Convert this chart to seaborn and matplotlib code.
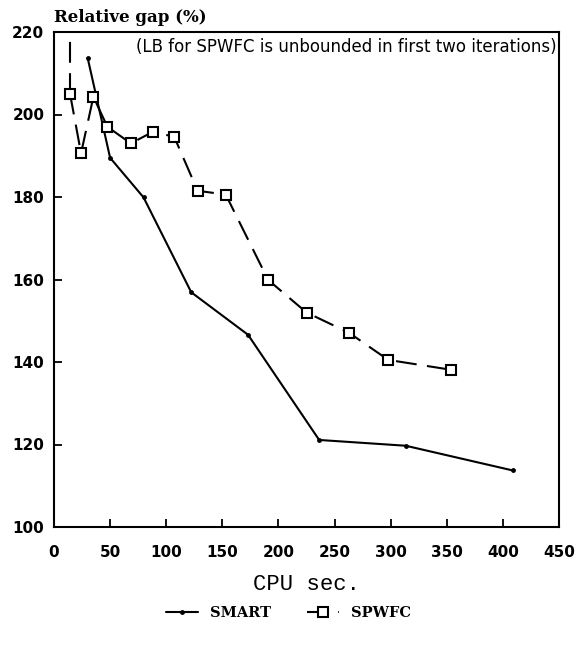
import matplotlib
matplotlib.use("Agg")
import matplotlib.pyplot as plt
import seaborn as sns
import pandas as pd

smart_cpu = [30.0, 50.0, 79.8, 122.3, 172.9, 236.3, 313.4, 408.9]
smart_gap = [213.7, 189.5, 179.9, 156.9, 146.6, 121.1, 119.7, 113.7]

spwfc_cpu = [14.3, 24.1, 35.1, 47.6, 68.5, 88.1, 107.1, 128.0, 153.0, 190.8, 225.0, 262.8, 297.9, 354.2]
spwfc_gap = [205.0, 190.6, 204.3, 197.0, 193.0, 195.8, 194.6, 181.5, 180.6, 159.9, 152.0, 147.1, 140.5, 138.1]

unbounded_cpu = [14.3, 14.3]
unbounded_gap = [205.0, 220.0]

x_ticks = [0, 50, 100, 150, 200, 250, 300, 350, 400, 450]
y_ticks = [100, 120, 140, 160, 180, 200, 220]

sns.set_style("ticks")
plt.rcParams["text.color"] = "black"
plt.rcParams["axes.labelcolor"] = "black"
plt.rcParams["xtick.color"] = "black"
plt.rcParams["ytick.color"] = "black"

fig = plt.figure(figsize=(5.77, 6.55), dpi=100)
ax = fig.add_axes([54 / 577, 1 - 527 / 655, 505 / 577, 495 / 655])

smart_df = pd.DataFrame({"cpu": smart_cpu, "gap": smart_gap})
spwfc_df = pd.DataFrame({"cpu": spwfc_cpu, "gap": spwfc_gap})

ax.plot(unbounded_cpu, unbounded_gap, color="black", linewidth=1.5,
        dashes=(10, 5), zorder=2)

sns.lineplot(data=smart_df, x="cpu", y="gap", sort=False, color="black",
             linewidth=1.5, marker="o", markersize=3.5, markeredgewidth=0,
             markerfacecolor="black", ax=ax)
smart_line = ax.lines[-1]

sns.lineplot(data=spwfc_df, x="cpu", y="gap", sort=False, color="black",
             linewidth=1.5, marker="s", markersize=6.5, markerfacecolor="white",
             markeredgecolor="black", markeredgewidth=1.5, ax=ax)
spwfc_line = ax.lines[-1]
spwfc_line.set_dashes((10, 5))

ax.set_xlim(0, 450)
ax.set_ylim(100, 220)
ax.set_xticks(x_ticks)
ax.set_yticks(y_ticks)
ax.set_xticklabels([str(v) for v in x_ticks], fontweight="bold", fontsize=11,
                   family="DejaVu Sans", color="black")
ax.set_yticklabels([str(v) for v in y_ticks], fontweight="bold", fontsize=11,
                   family="DejaVu Sans", color="black")
ax.tick_params(direction="in", length=6, width=1.3, colors="black")
ax.tick_params(axis="x", pad=13)
ax.tick_params(axis="y", pad=7)
for s in ax.spines.values():
    s.set_linewidth(1.5)
    s.set_color("black")

ax.set_xlabel("CPU sec.", fontsize=16, family="Liberation Mono", labelpad=10,
              color="black")
ax.set_ylabel("")

fig.text(54 / 577, 1 - 17 / 655, "Relative gap (%)", fontsize=12,
         fontweight="bold", family="DejaVu Serif", ha="left", va="center",
         color="black")

ax.text(0.995, 0.97, "(LB for SPWFC is unbounded in first two iterations)",
        transform=ax.transAxes, fontsize=12, family="DejaVu Sans",
        ha="right", va="center", color="black")

leg = fig.legend([smart_line, spwfc_line], ["SMART", "SPWFC"], loc="center",
                 bbox_to_anchor=(0.5, 1 - 613 / 655), ncol=2, frameon=False,
                 prop={"family": "DejaVu Serif", "weight": "bold", "size": 10.5},
                 handlelength=2.2, columnspacing=2.5, handletextpad=0.8)
for t in leg.get_texts():
    t.set_color("black")

fig.savefig("out.png", dpi=100, facecolor="white")
